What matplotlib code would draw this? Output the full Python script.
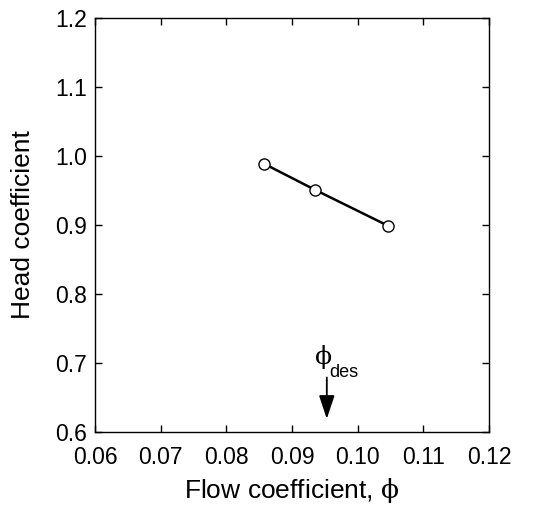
import matplotlib
matplotlib.use('Agg')
import matplotlib.pyplot as plt

# Data
flow_coef = [0.0857, 0.0935, 0.1046]
head_coef = [0.989, 0.951, 0.899]
phi_des = 0.0953

plt.rcParams['font.family'] = ['Liberation Sans', 'DejaVu Sans']
plt.rcParams['mathtext.fontset'] = 'custom'
plt.rcParams['mathtext.rm'] = 'DejaVu Serif'
plt.rcParams['mathtext.it'] = 'DejaVu Serif:italic'
plt.rcParams['font.size'] = 16

fig = plt.figure(figsize = (5.47, 5.11), dpi = 100)
ax = fig.add_axes([95 / 547, 1 - 432 / 511, 394 / 547, 414 / 511])

ax.plot(flow_coef, head_coef, color = 'black', lw = 1.8,
        marker = 'o', ms = 8, mfc = 'white', mec = 'black', mew = 1.0, zorder = 3)

# Design point arrow
ax.annotate('', xy = (phi_des, 0.615), xytext = (phi_des, 0.683),
            arrowprops = dict(arrowstyle = '-|>,head_width=0.3,head_length=0.9',
                              color = 'black', lw = 1.3))
ax.text(phi_des - 0.0006, 0.688, r'$\mathrm{\phi}$', ha = 'center', va = 'bottom', fontsize = 18)
ax.text(phi_des + 0.0003, 0.686, 'des', ha = 'left', va = 'center', fontsize = 13)

ax.set_xlim(0.06, 0.12)
ax.set_ylim(0.6, 1.2)
ax.set_xticks([0.06, 0.07, 0.08, 0.09, 0.10, 0.11, 0.12])
ax.set_xticklabels(['0.06', '0.07', '0.08', '0.09', '0.10', '0.11', '0.12'])
ax.set_yticks([0.6, 0.7, 0.8, 0.9, 1.0, 1.1, 1.2])
ax.set_yticklabels(['0.6', '0.7', '0.8', '0.9', '1.0', '1.1', '1.2'])
ax.tick_params(direction = 'in', top = True, right = True, length = 5, width = 1, labelsize = 16.5)
ax.tick_params(axis = 'x', pad = 10)
ax.tick_params(axis = 'y', pad = 6)

ax.set_xlabel(r'Flow coefficient, $\mathrm{\phi}$', fontsize = 19, labelpad = 5)
ax.set_ylabel('Head coefficient', fontsize = 19, labelpad = 14)

for spine in ax.spines.values():
    spine.set_linewidth(1.0)

fig.savefig('out.png', dpi = 100)
